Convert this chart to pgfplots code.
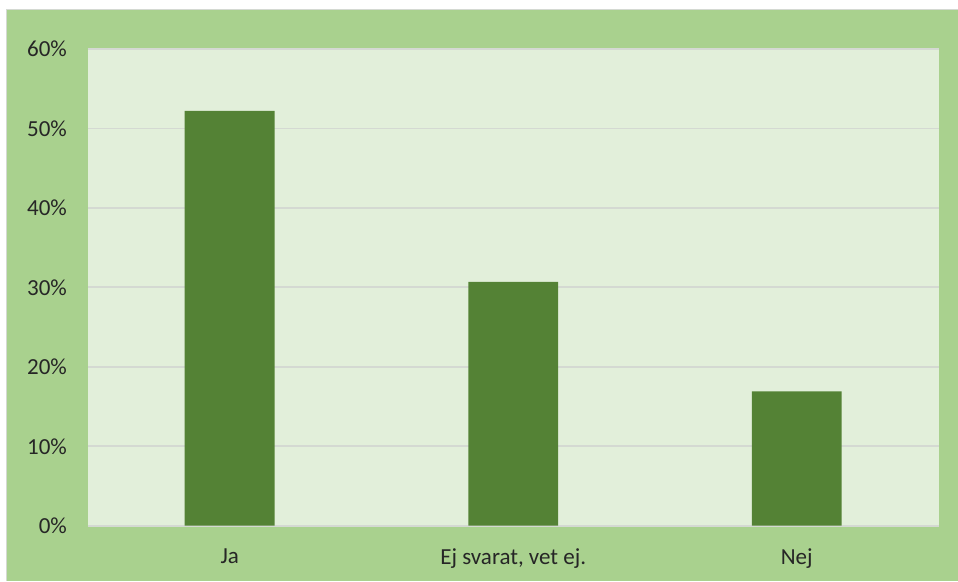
\documentclass[border=0pt]{standalone}
\usepackage{pgfplots}
\pgfplotsset{compat=1.18}
\usepackage{fontspec}
\setmainfont{Carlito}
\definecolor{outergreen}{HTML}{A9D18E}
\definecolor{plotgreen}{HTML}{E2EFDA}
\definecolor{bargreen}{HTML}{548235}
\definecolor{gridgray}{HTML}{D4D9D2}
\definecolor{txt}{HTML}{262626}
\begin{document}
\begin{tikzpicture}
  % canvas 958 x 581 px, 1 px = 0.5pt
  \fill[white] (0pt,0pt) rectangle (479pt,290.5pt);
  \fill[outergreen] (3.5pt,0pt) rectangle (479pt,285.5pt);
  \draw[gridgray,line width=0.5pt] (3.25pt,0pt) -- (3.25pt,285.75pt) -- (479pt,285.75pt);
  \begin{axis}[
    at={(44pt,27.5pt)}, anchor=south west,
    scale only axis,
    width=425.5pt, height=238.5pt,
    xmin=-0.5, xmax=2.5,
    ymin=0, ymax=60,
    ytick={0,10,...,60},
    yticklabel={\pgfmathprintnumber{\tick}\%},
    xtick=data,
    xticklabels={Ja, {Ej svarat, vet ej.}, Nej},
    axis background/.style={fill=plotgreen},
    ymajorgrids,
    grid style={gridgray, line width=0.9pt},
    axis x line*=bottom,
    axis y line*=left,
    y axis line style={draw=none},
    x axis line style={gridgray, line width=1pt, -},
    major tick length=0pt,
    tick label style={font=\fontsize{11.5}{13}\selectfont, text=txt},
    /pgf/number format/assume math mode=true,
    yticklabel style={xshift=-7pt},
    xticklabel style={yshift=-8pt},
    clip=false,
  ]
    \addplot[ybar, bar width=45pt, fill=bargreen, draw=none] coordinates {
      (0,52.2) (1,30.7) (2,16.9)
    };
  \end{axis}
\end{tikzpicture}
\end{document}
